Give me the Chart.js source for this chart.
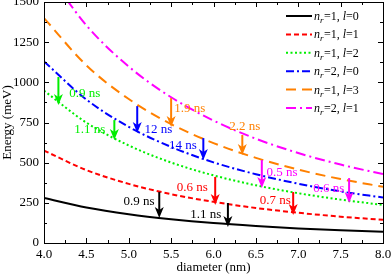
<!DOCTYPE html>
<html>
<head>
<meta charset="utf-8">
<script src="https://cdn.jsdelivr.net/npm/chart.js@4/dist/chart.umd.min.js"></script>
<style>
html,body{margin:0;padding:0;background:#fff;}
#c{display:block;}
</style>
</head>
<body>
<canvas id="c" width="391" height="276"></canvas>
<script>
// ---- data ----
const diameters   = [4.0, 4.5, 5.0, 5.5, 6.0, 6.5, 7.0, 7.5, 8.0];
const energy_n1l0 = [280, 221, 179, 148, 124, 106, 91, 79, 70];
const energy_n1l1 = [575, 454, 368, 304, 256, 218, 188, 164, 144];
const energy_n1l2 = [948, 749, 607, 501, 421, 359, 310, 270, 237];
const energy_n2l0 = [1130, 893, 723, 598, 502, 428, 369, 321, 283];
const energy_n1l3 = [1400, 1106, 896, 740, 622, 530, 457, 398, 350];
const energy_n2l1 = [1715, 1355, 1098, 907, 762, 649, 560, 488, 429];

const xTicks = [4.0, 4.5, 5.0, 5.5, 6.0, 6.5, 7.0, 7.5, 8.0];
const yTicks = [0, 250, 500, 750, 1000, 1250, 1500];

// transitions: diameter, upper energy, lower energy, lifetime label
const arrowDiam  = [4.17, 4.83, 5.10, 5.50, 6.34, 5.88, 6.57, 7.60, 6.02, 6.94, 5.36, 6.17];
const arrowFrom  = [1033, 765, 852, 902, 672, 653, 516, 404, 411, 317, 317, 249];
const arrowTo    = [859, 641, 684, 722, 548, 516, 342, 249, 236, 174, 156, 100];
const arrowText  = ["0.9 ns","1.1 ns","12 ns","1.9 ns","2.2 ns","14 ns","0.5 ns","0.6 ns","0.6 ns","0.7 ns","0.9 ns","1.1 ns"];
const arrowSeries = [2, 2, 3, 4, 4, 3, 5, 5, 1, 1, 0, 0];

// ---- styling / layout ----
const labelAnchorX = [4.48, 4.54, 5.35, 5.72, 6.37, 5.64, 6.81, 7.36, 5.75, 6.73, 5.12, 5.91];
const labelAnchorY = [933, 703, 703, 834, 722, 604, 436, 336, 342, 261, 255, 174];

const seriesDefs = [
  {vals: energy_n1l0, nr: "1", l: "0", color: "#000000", dash: []},
  {vals: energy_n1l1, nr: "1", l: "1", color: "#ff0000", dash: [5, 3]},
  {vals: energy_n1l2, nr: "1", l: "2", color: "#00ee00", dash: [2, 2.5]},
  {vals: energy_n2l0, nr: "2", l: "0", color: "#0000ff", dash: [8, 3, 2, 3]},
  {vals: energy_n1l3, nr: "1", l: "3", color: "#ff8000", dash: [10, 6]},
  {vals: energy_n2l1, nr: "2", l: "1", color: "#ff00ff", dash: [10, 4, 2, 4]}
];

const FONT = "'Liberation Serif', 'DejaVu Serif', serif";

const decorPlugin = {
  id: 'decor',
  afterDatasetsDraw(chart) {
    const ctx = chart.ctx;
    const xs = chart.scales.x, ys = chart.scales.y;
    const a = chart.chartArea;
    ctx.save();
    // frame
    ctx.strokeStyle = '#000';
    ctx.lineWidth = 1;
    ctx.strokeRect(Math.round(a.left) + 0.5, Math.round(a.top) + 0.5,
                   Math.round(a.right - a.left), Math.round(a.bottom - a.top));
    // ticks (inward) on all four sides
    ctx.beginPath();
    for (let i = 0; i < xTicks.length; i++) {
      const px = Math.round(xs.getPixelForValue(xTicks[i])) + 0.5;
      ctx.moveTo(px, a.bottom); ctx.lineTo(px, a.bottom - 5);
      ctx.moveTo(px, a.top); ctx.lineTo(px, a.top + 5);
      if (i < xTicks.length - 1) {
        const pm = Math.round(xs.getPixelForValue((xTicks[i] + xTicks[i + 1]) / 2)) + 0.5;
        ctx.moveTo(pm, a.bottom); ctx.lineTo(pm, a.bottom - 3);
        ctx.moveTo(pm, a.top); ctx.lineTo(pm, a.top + 3);
      }
    }
    for (let i = 0; i < yTicks.length; i++) {
      const py = Math.round(ys.getPixelForValue(yTicks[i])) + 0.5;
      ctx.moveTo(a.left, py); ctx.lineTo(a.left + 5, py);
      ctx.moveTo(a.right, py); ctx.lineTo(a.right - 5, py);
      if (i < yTicks.length - 1) {
        const pm = Math.round(ys.getPixelForValue((yTicks[i] + yTicks[i + 1]) / 2)) + 0.5;
        ctx.moveTo(a.left, pm); ctx.lineTo(a.left + 3, pm);
        ctx.moveTo(a.right, pm); ctx.lineTo(a.right - 3, pm);
      }
    }
    ctx.stroke();

    // arrows
    for (let i = 0; i < arrowDiam.length; i++) {
      const col = seriesDefs[arrowSeries[i]].color;
      const px = xs.getPixelForValue(arrowDiam[i]);
      const y0 = ys.getPixelForValue(arrowFrom[i]);
      const y1 = ys.getPixelForValue(arrowTo[i]);
      ctx.strokeStyle = col; ctx.fillStyle = col;
      ctx.lineWidth = 2; ctx.setLineDash([]);
      ctx.beginPath(); ctx.moveTo(px, y0); ctx.lineTo(px, y1 - 6); ctx.stroke();
      ctx.beginPath();
      ctx.moveTo(px, y1);
      ctx.lineTo(px - 4.5, y1 - 11);
      ctx.lineTo(px, y1 - 8);
      ctx.lineTo(px + 4.5, y1 - 11);
      ctx.closePath(); ctx.fill();
      // label
      ctx.font = "13px " + FONT;
      ctx.textAlign = 'center'; ctx.textBaseline = 'middle';
      ctx.fillText(arrowText[i], xs.getPixelForValue(labelAnchorX[i]), ys.getPixelForValue(labelAnchorY[i]));
    }

    // legend
    const lx0 = 286, lx1 = 312, tx = 314, rowY0 = 16, rowH = 18.4;
    seriesDefs.forEach((s, i) => {
      const y = rowY0 + i * rowH;
      ctx.strokeStyle = s.color; ctx.lineWidth = 2; ctx.setLineDash(s.dash);
      ctx.beginPath(); ctx.moveTo(lx0, y); ctx.lineTo(lx1, y); ctx.stroke();
      ctx.setLineDash([]);
      ctx.fillStyle = '#000'; ctx.textAlign = 'left'; ctx.textBaseline = 'alphabetic';
      let x = tx; const base = y + 4;
      ctx.font = "italic 12px " + FONT; ctx.fillText('n', x, base); x += ctx.measureText('n').width;
      ctx.font = "italic 9px " + FONT; ctx.fillText('r', x, base + 3); x += ctx.measureText('r').width + 0.5;
      ctx.font = "12px " + FONT; let t = '=' + s.nr + ', '; ctx.fillText(t, x, base); x += ctx.measureText(t).width;
      ctx.font = "italic 12px " + FONT; ctx.fillText('l', x, base); x += ctx.measureText('l').width;
      ctx.font = "12px " + FONT; ctx.fillText('=' + s.l, x, base);
    });
    ctx.restore();
  }
};

new Chart(document.getElementById('c'), {
  type: 'line',
  data: {
    datasets: seriesDefs.map(s => ({
      label: 'nr=' + s.nr + ', l=' + s.l,
      data: diameters.map((d, i) => ({x: d, y: s.vals[i]})),
      borderColor: s.color,
      borderWidth: 2,
      borderDash: s.dash,
      pointRadius: 0,
      fill: false,
      cubicInterpolationMode: 'monotone'
    }))
  },
  options: {
    responsive: false,
    animation: false,
    devicePixelRatio: 1,
    layout: {padding: {top: 2, right: 8, left: 0, bottom: 0}},
    plugins: {legend: {display: false}, tooltip: {enabled: false}},
    scales: {
      x: {
        type: 'linear', min: 4, max: 8,
        afterFit: s => { s.height = 33; s.paddingLeft = 0; s.paddingRight = 0; },
        afterBuildTicks: s => { s.ticks = xTicks.map(v => ({value: v})); },
        ticks: {callback: v => v.toFixed(1), color: '#000', font: {family: FONT, size: 13}, padding: 4, maxRotation: 0, autoSkip: false},
        grid: {display: false, drawTicks: false},
        border: {display: false},
        title: {display: true, text: 'diameter (nm)', color: '#000', font: {family: FONT, size: 13}, padding: {top: 0, bottom: 1}}
      },
      y: {
        type: 'linear', min: 0, max: 1500,
        afterFit: s => { s.width = 44; s.paddingTop = 0; s.paddingBottom = 0; },
        afterBuildTicks: s => { s.ticks = yTicks.map(v => ({value: v})); },
        ticks: {callback: v => String(v), color: '#000', font: {family: FONT, size: 13}, padding: 5},
        grid: {display: false, drawTicks: false},
        border: {display: false},
        title: {display: true, text: 'Energy (meV)', color: '#000', font: {family: FONT, size: 13}, padding: {top: 0, bottom: 0}}
      }
    }
  },
  plugins: [decorPlugin]
});
</script>
</body>
</html>
